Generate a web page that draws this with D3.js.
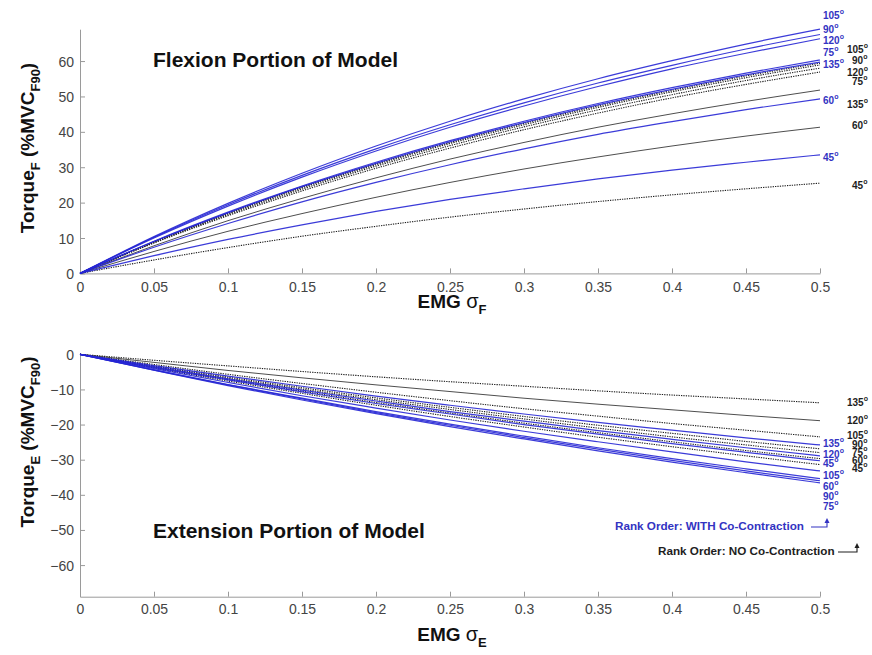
<!DOCTYPE html>
<html>
<head>
<meta charset="utf-8">
<script src="https://cdn.jsdelivr.net/npm/d3@7"></script>
<style>
  body { margin: 0; background: #fff; }
  svg { font-family: "Liberation Sans", Arial, Helvetica, sans-serif; }
</style>
</head>
<body>
<svg id="chart" width="872" height="655"></svg>
<script>
// EMG amplitude samples (x axis, both panels)
const emg = [0, 0.05, 0.1, 0.15, 0.2, 0.25, 0.3, 0.35, 0.4, 0.45, 0.5];
const xTicks = [0, 0.05, 0.1, 0.15, 0.2, 0.25, 0.3, 0.35, 0.4, 0.45, 0.5];
const flexTicks = [0, 10, 20, 30, 40, 50, 60];
const extTicks = [0, -10, -20, -30, -40, -50, -60];

// joint angles (deg) – row order of every series table below
const angles = [45, 60, 75, 90, 105, 120, 135];

// Flexion torque (%MVC_F90), model WITH co-contraction
const flexWithCo = [
  [0, 5.0, 9.6, 13.7, 17.5, 20.9, 23.9, 26.7, 29.2, 31.4, 33.5],
  [0, 7.4, 14.1, 20.2, 25.7, 30.7, 35.2, 39.3, 42.9, 46.3, 49.3],
  [0, 9.1, 17.3, 24.7, 31.4, 37.5, 43.0, 48.0, 52.5, 56.6, 60.3],
  [0, 10.2, 19.4, 27.7, 35.2, 42.0, 48.2, 53.8, 58.8, 63.4, 67.5],
  [0, 10.4, 19.8, 28.3, 36.0, 43.0, 49.3, 55.0, 60.1, 64.8, 69.0],
  [0, 10.0, 19.0, 27.2, 34.6, 41.3, 47.3, 52.8, 57.8, 62.2, 66.3],
  [0, 9.0, 17.1, 24.5, 31.1, 37.2, 42.6, 47.6, 52.0, 56.1, 59.7]
];
// Flexion torque, model with NO co-contraction
const flexNoCo = [
  [0, 3.8, 7.3, 10.5, 13.3, 15.9, 18.2, 20.3, 22.2, 23.9, 25.5],
  [0, 6.2, 11.9, 16.9, 21.5, 25.7, 29.5, 32.9, 36.0, 38.8, 41.3],
  [0, 8.6, 16.3, 23.3, 29.7, 35.4, 40.6, 45.3, 49.6, 53.4, 56.9],
  [0, 8.9, 16.9, 24.2, 30.7, 36.7, 42.0, 46.9, 51.3, 55.3, 58.9],
  [0, 8.9, 17.0, 24.4, 31.0, 37.0, 42.4, 47.3, 51.7, 55.8, 59.4],
  [0, 8.7, 16.6, 23.8, 30.3, 36.1, 41.4, 46.2, 50.5, 54.5, 58.0],
  [0, 7.8, 14.9, 21.2, 27.0, 32.3, 37.0, 41.3, 45.1, 48.6, 51.8]
];
// Extension torque (%MVC_F90), model WITH co-contraction
const extWithCo = [
  [0, -3.8, -7.3, -10.7, -14.0, -17.0, -20.0, -22.7, -25.4, -27.9, -30.3],
  [0, -4.4, -8.6, -12.5, -16.3, -19.9, -23.3, -26.6, -29.7, -32.6, -35.4],
  [0, -4.5, -8.9, -13.0, -16.9, -20.6, -24.1, -27.5, -30.7, -33.7, -36.6],
  [0, -4.5, -8.7, -12.7, -16.6, -20.2, -23.7, -27.0, -30.2, -33.2, -36.0],
  [0, -4.1, -8.0, -11.8, -15.3, -18.7, -21.9, -24.9, -27.8, -30.6, -33.2],
  [0, -3.6, -7.0, -10.2, -13.3, -16.3, -19.0, -21.7, -24.2, -26.6, -28.9],
  [0, -3.2, -6.2, -9.1, -11.9, -14.5, -17.0, -19.4, -21.6, -23.8, -25.8]
];
// Extension torque, model with NO co-contraction
const extNoCo = [
  [0, -3.9, -7.6, -11.1, -14.5, -17.7, -20.7, -23.6, -26.3, -28.9, -31.4],
  [0, -3.7, -7.2, -10.5, -13.7, -16.7, -19.6, -22.3, -24.9, -27.4, -29.7],
  [0, -3.5, -6.8, -9.9, -12.9, -15.7, -18.4, -21.0, -23.5, -25.8, -28.0],
  [0, -3.3, -6.5, -9.5, -12.4, -15.1, -17.7, -20.2, -22.5, -24.8, -26.9],
  [0, -2.9, -5.7, -8.3, -10.8, -13.2, -15.5, -17.6, -19.7, -21.6, -23.5],
  [0, -2.3, -4.6, -6.7, -8.7, -10.6, -12.5, -14.2, -15.8, -17.4, -18.9],
  [0, -1.7, -3.3, -4.9, -6.4, -7.8, -9.1, -10.4, -11.6, -12.7, -13.8]
];

const BLUE_LINE = "#2626d4";
const BLUE_TEXT = "#3333c2";
const DARK = "#1e1e1e";
const AXIS = "#9a9a9a";

const svg = d3.select("#chart");
const x = d3.scaleLinear().domain([0, 0.5]).range([80, 820]);

const panels = [
  {
    y: d3.scaleLinear().domain([0, 69]).range([273.4, 29.2]),
    ticks: flexTicks, withCo: flexWithCo, noCo: flexNoCo,
    title: "Flexion Portion of Model", titleY: 67,
    ySub: "F", yTitleCy: 148, xSub: "F", xLabelY: 292, xTitleY: 308,
    solidNo: [60, 135],
    blueLab: { 105: 15, 90: 29, 120: 40, 75: 52, 135: 64, 60: 100, 45: 157 },
    darkLab: { 105: 49, 90: 60, 120: 72, 75: 81, 135: 104, 60: 125, 45: 185 }
  },
  {
    y: d3.scaleLinear().domain([-69, 0]).range([596.7, 354.3]),
    ticks: extTicks, withCo: extWithCo, noCo: extNoCo,
    title: "Extension Portion of Model", titleY: 538,
    ySub: "E", yTitleCy: 442, xSub: "E", xLabelY: 614, xTitleY: 641,
    solidNo: [120],
    blueLab: { 135: 443, 120: 454, 45: 463, 105: 475, 60: 486, 90: 496, 75: 506 },
    darkLab: { 135: 402, 120: 420, 105: 435, 90: 444, 75: 452, 60: 460, 45: 468 }
  }
];

function degLabel(g, txt, px, py, color) {
  const t = g.append("text").attr("x", px).attr("y", py + 3.5)
    .attr("font-size", 10).attr("font-weight", "bold").attr("fill", color);
  t.append("tspan").text(txt);
  t.append("tspan").attr("dy", -4.5).attr("font-size", 7).text("o");
}

panels.forEach(p => {
  const g = svg.append("g");
  const y = p.y;
  const [yBottom] = y.range();
  const line = d3.line().x((d, i) => x(emg[i])).y(d => y(d)).curve(d3.curveMonotoneX);

  // axes: left and bottom only, ticks pointing inward
  const xAxis = g.append("g").attr("transform", `translate(0,${yBottom})`)
    .call(d3.axisBottom(x).tickValues(xTicks).tickSizeInner(-5).tickSizeOuter(0)
      .tickPadding(9).tickFormat(d => d3.format("")(+d.toFixed(2))));
  const yAxis = g.append("g").attr("transform", `translate(80,0)`)
    .call(d3.axisLeft(y).tickValues(p.ticks).tickSizeInner(-5).tickSizeOuter(0).tickPadding(6));
  [xAxis, yAxis].forEach(a => {
    a.select(".domain").attr("stroke", AXIS);
    a.selectAll(".tick line").attr("stroke", AXIS);
    a.selectAll(".tick text").attr("fill", "#444").attr("font-size", 14)
      .attr("font-family", "\"Liberation Sans\", Arial, sans-serif");
  });
  xAxis.selectAll(".tick text").attr("dy", null).attr("y", p.xLabelY - yBottom);
  yAxis.selectAll(".tick text").attr("dy", "0.36em");

  // model curves: NO co-contraction (dark), then WITH co-contraction (blue) on top
  p.noCo.forEach((vals, i) => {
    const solid = p.solidNo.includes(angles[i]);
    g.append("path").attr("d", line(vals)).attr("fill", "none")
      .attr("stroke", solid ? "#3a3a3a" : DARK)
      .attr("stroke-width", solid ? 0.9 : 1.1)
      .attr("stroke-dasharray", solid ? null : "1.3,1.1");
  });
  p.withCo.forEach(vals => {
    g.append("path").attr("d", line(vals)).attr("fill", "none")
      .attr("stroke", BLUE_LINE).attr("stroke-width", 1.2).attr("opacity", 0.9);
  });

  // angle labels at the curve ends
  angles.forEach(a => {
    degLabel(g, String(a), 823, p.blueLab[a], BLUE_TEXT);
    degLabel(g, String(a), a >= 100 ? 847 : 852, p.darkLab[a], DARK);
  });

  // panel title
  g.append("text").attr("x", 153).attr("y", p.titleY).attr("font-size", 21)
    .attr("font-weight", "bold").attr("fill", "#111").text(p.title);

  // x axis title: EMG sigma
  const xt = g.append("text").attr("x", 452).attr("y", p.xTitleY).attr("text-anchor", "middle")
    .attr("font-size", 19).attr("font-weight", "bold").attr("fill", "#111");
  xt.append("tspan").text("EMG ");
  xt.append("tspan").attr("font-weight", "normal").attr("font-size", 20).text("σ");
  xt.append("tspan").attr("dy", 6).attr("font-size", 13).text(p.xSub);

  // y axis title
  const yt = g.append("text").attr("transform", `translate(34,${p.yTitleCy}) rotate(-90)`)
    .attr("text-anchor", "middle").attr("font-size", 19).attr("font-weight", "bold").attr("fill", "#111");
  yt.append("tspan").text("Torque");
  yt.append("tspan").attr("dy", 6).attr("font-size", 13).text(p.ySub);
  yt.append("tspan").attr("dy", -6).text(" (%MVC");
  yt.append("tspan").attr("dy", 6).attr("font-size", 13).text("F90");
  yt.append("tspan").attr("dy", -6).text(")");
});

// rank-order notes with hooked arrows
function rankNote(txt, tx, ty, color, ax0, ax1, ay, aTop) {
  svg.append("text").attr("x", tx).attr("y", ty).attr("font-size", 11.7)
    .attr("font-weight", "bold").attr("fill", color).text(txt);
  svg.append("path").attr("d", `M${ax0},${ay}H${ax1}V${aTop + 3}`)
    .attr("fill", "none").attr("stroke", color).attr("stroke-width", 1.1);
  svg.append("path").attr("d", `M${ax1 - 2.5},${aTop + 4}L${ax1},${aTop - 1}L${ax1 + 2.5},${aTop + 4}Z`)
    .attr("fill", color);
}
rankNote("Rank Order: WITH Co-Contraction", 615, 530, BLUE_TEXT, 811, 827, 527, 519);
rankNote("Rank Order: NO Co-Contraction", 658, 555, DARK, 838, 857, 552, 544);
</script>
</body>
</html>
